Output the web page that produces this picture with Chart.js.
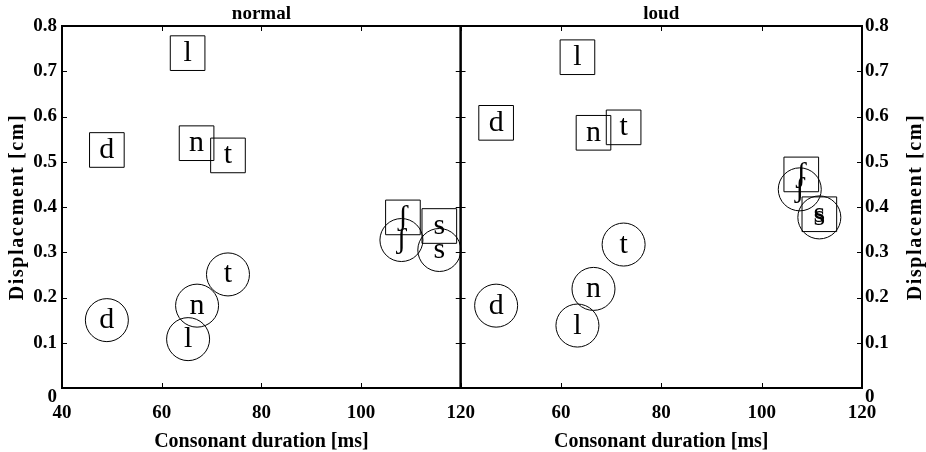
<!DOCTYPE html>
<html>
<head>
<meta charset="utf-8">
<script src="https://cdn.jsdelivr.net/npm/chart.js@4.4.1/dist/chart.umd.min.js"></script>
<style>
  html, body { margin: 0; padding: 0; background: #fff; }
  #wrap { position: relative; width: 926px; height: 452px; overflow: hidden; }
  canvas { position: absolute; top: 0; }
  #normalChart { left: 0; }
  #loudChart { left: 435px; }
</style>
</head>
<body>
<div id="wrap">
  <canvas id="normalChart" width="489" height="452"></canvas>
  <canvas id="loudChart" width="491" height="452"></canvas>
</div>
<script>
// Datos
const consonants = ['l', 'd', 'n', 't', 'ʃ', 's'];

const normalSquareX = [65.2, 49.0, 67.0, 73.3, 108.4, 115.7];
const normalSquareY = [0.740, 0.526, 0.541, 0.514, 0.377, 0.358];
const normalCircleX = [65.3, 49.0, 67.1, 73.3, 108.1, 115.7];
const normalCircleY = [0.108, 0.150, 0.182, 0.251, 0.327, 0.305];

const loudSquareX = [63.3, 47.1, 66.5, 72.5, 107.9, 111.5];
const loudSquareY = [0.731, 0.586, 0.564, 0.576, 0.472, 0.384];
const loudCircleX = [63.3, 47.1, 66.5, 72.5, 107.6, 111.5];
const loudCircleY = [0.138, 0.182, 0.219, 0.317, 0.439, 0.377];

const xTicks = [40, 60, 80, 100, 120];
const yTicks = [0, 0.1, 0.2, 0.3, 0.4, 0.5, 0.6, 0.7, 0.8];

const serif = '"Liberation Serif", "Times New Roman", serif';

function toPoints(xs, ys) {
    return xs.map(function (x, i) { return { x: x, y: ys[i] }; });
}

// Marco con marcas hacia dentro (estilo MATLAB)
const framePlugin = {
    id: 'frame',
    afterDraw: function (chart) {
        const ctx = chart.ctx;
        const a = chart.chartArea;
        const xs = chart.scales.x, ys = chart.scales.y;
        const len = 5;
        ctx.save();
        ctx.strokeStyle = '#000';
        ctx.lineWidth = 1;
        xTicks.forEach(function (v) {
            const px = Math.round(xs.getPixelForValue(v)) + 0.5;
            ctx.beginPath();
            ctx.moveTo(px, a.bottom); ctx.lineTo(px, a.bottom - len);
            ctx.moveTo(px, a.top); ctx.lineTo(px, a.top + len);
            ctx.stroke();
        });
        yTicks.forEach(function (v) {
            const py = Math.round(ys.getPixelForValue(v)) + 0.5;
            ctx.beginPath();
            ctx.moveTo(a.left, py); ctx.lineTo(a.left + len, py);
            ctx.moveTo(a.right, py); ctx.lineTo(a.right - len, py);
            ctx.stroke();
        });
        ctx.lineWidth = 2;
        ctx.strokeRect(a.left, a.top, a.right - a.left, a.bottom - a.top);
        ctx.restore();
    }
};

// Letras dentro de cada marcador
const lettersPlugin = {
    id: 'letters',
    afterDatasetsDraw: function (chart) {
        const ctx = chart.ctx;
        ctx.save();
        ctx.fillStyle = '#000';
        ctx.font = '30px ' + serif;
        ctx.textAlign = 'center';
        ctx.textBaseline = 'alphabetic';
        chart.data.datasets.forEach(function (ds, di) {
            chart.getDatasetMeta(di).data.forEach(function (el, i) {
                ctx.fillText(consonants[i], el.x, el.y + 8);
            });
        });
        ctx.restore();
    }
};

// Titulo del panel y titulo del eje Y (leido de abajo hacia arriba)
const panelTextPlugin = {
    id: 'panelText',
    afterDraw: function (chart, args, opts) {
        const a = chart.chartArea;
        const ctx = chart.ctx;
        ctx.save();
        ctx.fillStyle = '#000';
        ctx.textAlign = 'center';
        ctx.textBaseline = 'middle';
        ctx.font = 'bold 19px ' + serif;
        ctx.fillText(opts.title, (a.left + a.right) / 2, a.top - 12);

        ctx.translate(opts.yTitleX, (a.top + a.bottom) / 2);
        ctx.rotate(-Math.PI / 2);
        ctx.font = 'bold 20px ' + serif;
        if ('letterSpacing' in ctx) ctx.letterSpacing = '1.6px';
        ctx.fillText(opts.yTitle, 0, 0);
        ctx.restore();
    }
};

function buildChart(canvasId, title, sqX, sqY, ciX, ciY, side) {
    const ctx = document.getElementById(canvasId).getContext('2d');
    const isLeft = side === 'left';
    return new Chart(ctx, {
        type: 'scatter',
        data: {
            datasets: [{
                label: 'square',
                data: toPoints(sqX, sqY),
                pointStyle: 'rect',
                pointRadius: 24.5,
                backgroundColor: 'rgba(0,0,0,0)',
                borderColor: '#000',
                borderWidth: 1,
                clip: false
            }, {
                label: 'circle',
                data: toPoints(ciX, ciY),
                pointStyle: 'circle',
                pointRadius: 21.5,
                backgroundColor: 'rgba(0,0,0,0)',
                borderColor: '#000',
                borderWidth: 1,
                clip: false
            }]
        },
        options: {
            responsive: false,
            animation: false,
            devicePixelRatio: 1,
            events: [],
            layout: {
                padding: isLeft ? { left: 0, right: 10, top: 26, bottom: 0 }
                                : { left: 16, right: 0, top: 26, bottom: 0 }
            },
            plugins: {
                legend: { display: false },
                tooltip: { enabled: false },
                title: { display: false },
                panelText: {
                    title: title,
                    yTitle: 'Displacement [cm]',
                    yTitleX: isLeft ? 18 : 481
                }
            },
            scales: {
                x: {
                    type: 'linear',
                    min: 40,
                    max: 120,
                    afterBuildTicks: function (s) { s.ticks = xTicks.map(function (v) { return { value: v }; }); },
                    afterFit: function (s) { s.height = 64; },
                    grid: { display: false, drawTicks: false },
                    border: { display: false },
                    ticks: {
                        color: '#000',
                        padding: 14,
                        maxRotation: 0,
                        font: { family: serif, size: 19, weight: 'bold' },
                        callback: function (v) { return (!isLeft && v === 40) ? '' : String(v); }
                    },
                    title: {
                        display: true,
                        text: 'Consonant duration [ms]',
                        color: '#000',
                        font: { family: serif, size: 20, weight: 'bold', lineHeight: 1 },
                        padding: { top: 0, bottom: 0 }
                    }
                },
                y: {
                    type: 'linear',
                    position: side,
                    min: 0,
                    max: 0.8,
                    afterBuildTicks: function (s) { s.ticks = yTicks.map(function (v) { return { value: v }; }); },
                    afterFit: function (s) { s.width = isLeft ? 62 : 64; },
                    grid: { display: false, drawTicks: false },
                    border: { display: false },
                    ticks: {
                        color: '#000',
                        padding: isLeft ? 5 : 3,
                        font: { family: serif, size: 19, weight: 'bold', lineHeight: 1 },
                        // el "0" aparece un poco mas abajo, como en MATLAB
                        callback: function (v) { return v === 0 ? ['', '0'] : v.toFixed(1); }
                    },
                    title: { display: false }
                }
            }
        },
        plugins: [framePlugin, lettersPlugin, panelTextPlugin]
    });
}

buildChart('normalChart', 'normal', normalSquareX, normalSquareY, normalCircleX, normalCircleY, 'left');
buildChart('loudChart', 'loud', loudSquareX, loudSquareY, loudCircleX, loudCircleY, 'right');
</script>
</body>
</html>
